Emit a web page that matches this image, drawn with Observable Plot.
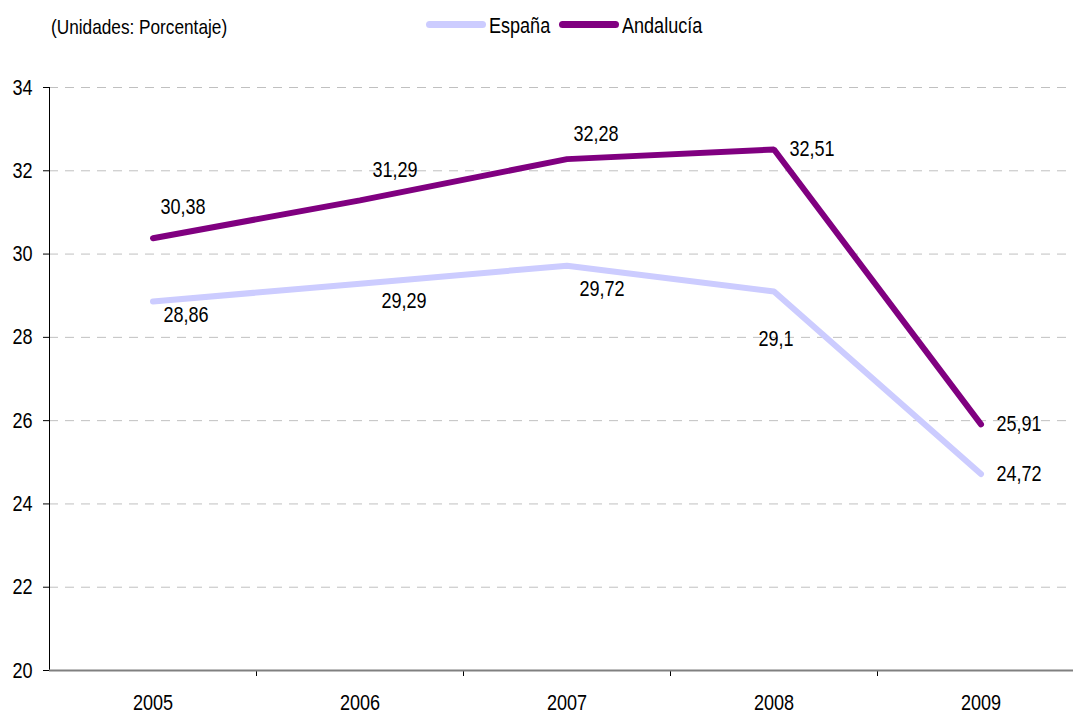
<!DOCTYPE html>
<html>
<head>
<meta charset="utf-8">
<script src="https://cdn.jsdelivr.net/npm/d3@7"></script>
<script src="https://cdn.jsdelivr.net/npm/@observablehq/plot@0.6"></script>
<style>
  html, body { margin: 0; padding: 0; background: #fff; }
  #wrap { position: relative; width: 1073px; height: 713px; overflow: hidden;
          font-family: "Liberation Sans", Arial, sans-serif; color: #000; }
  #chart { position: absolute; left: 0; top: 0; }
  .hdr { position: absolute; font-size: 21px; line-height: 21px; white-space: nowrap;
         transform: scaleX(0.82); transform-origin: 0 0; }
  .leg { font-size: 22px; line-height: 22px; }
  .sw { position: absolute; height: 7px; width: 60px; border-radius: 4px; }
</style>
</head>
<body>
<div id="wrap">
  <div id="chart"></div>
  <div class="hdr" style="left:51px; top:16px;">(Unidades: Porcentaje)</div>
  <div class="sw" style="left:426px; top:21px; background:#ccccff;"></div>
  <div class="hdr leg" style="left:489px; top:15px;">España</div>
  <div class="sw" style="left:559px; top:21px; background:#800080;"></div>
  <div class="hdr leg" style="left:622px; top:15px;">Andalucía</div>
</div>
<script>
// ---- data ----
const years = ["2005", "2006", "2007", "2008", "2009"];
const espana = [28.86, 29.29, 29.72, 29.1, 24.72];
const andalucia = [30.38, 31.29, 32.28, 32.51, 25.91];
const seriesNames = ["España", "Andalucía"];
const seriesColors = ["#ccccff", "#800080"];
const yTicks = [20, 22, 24, 26, 28, 30, 32, 34];

// label offsets (style, px) for value labels
const offEsp = [[33, 13], [44, 17], [35, 23], [2, 47], [38, 0]];
const offAnd = [[30, -31], [35, -30], [29, -25], [38, -1], [38, 0]];

const rows = [
  ...espana.map((v, i) => ({i, year: years[i], value: v, series: "España", off: offEsp[i]})),
  ...andalucia.map((v, i) => ({i, year: years[i], value: v, series: "Andalucía", off: offAnd[i]}))
];

const fmt = v => String(v).replace(".", ",");
const font = '"Liberation Sans", Arial, sans-serif';

const chart = Plot.plot({
  width: 1073,
  height: 713,
  marginLeft: 49,
  marginRight: 0,
  marginTop: 87,
  marginBottom: 43,
  style: {fontFamily: font, fontSize: "22px", color: "#000", background: "#fff"},
  x: {type: "linear", domain: [-0.5, years.length - 0.5], range: [49, 1084], axis: null},
  y: {domain: [20, 34], axis: null},
  color: {domain: seriesNames, range: seriesColors},
  marks: [
    Plot.ruleY(yTicks.filter(t => t > 20), {stroke: "#c0c0c0", strokeDasharray: "9,7", strokeWidth: 1}),
    Plot.axisY({ticks: yTicks, tickSize: 6, tickPadding: 11, tickFormat: d => String(d), fontSize: 22, stroke: "#000", label: null}),
    Plot.ruleX([-0.5], {y1: 20, y2: 34, stroke: "#000", strokeWidth: 1}),
    Plot.axisX({ticks: d3.range(1, years.length).map(k => k - 0.5), tickSize: 6, tickFormat: () => "", stroke: "#000", label: null}),
    Plot.axisX({ticks: d3.range(years.length), tickSize: 0, tickPadding: 24, tickFormat: k => years[k], fontSize: 22, label: null}),
    Plot.ruleY([20], {stroke: "#808080", strokeWidth: 2}),
    Plot.line(rows, {x: "i", y: "value", z: "series", stroke: "series", strokeWidth: 6, strokeLinecap: "round", strokeLinejoin: "miter"}),
    ...rows.map(r => Plot.text([r], {x: "i", y: "value", text: d => fmt(d.value), dx: r.off[0], dy: r.off[1], fontSize: 22, fill: "#000"}))
  ]
});
document.getElementById("chart").appendChild(chart);

// narrow the glyphs (Arial Narrow look)
chart.querySelectorAll("text").forEach(t => {
  const len = t.getComputedTextLength();
  if (len > 0) {
    t.setAttribute("textLength", (len * 0.82).toFixed(2));
    t.setAttribute("lengthAdjust", "spacingAndGlyphs");
  }
});
</script>
</body>
</html>
